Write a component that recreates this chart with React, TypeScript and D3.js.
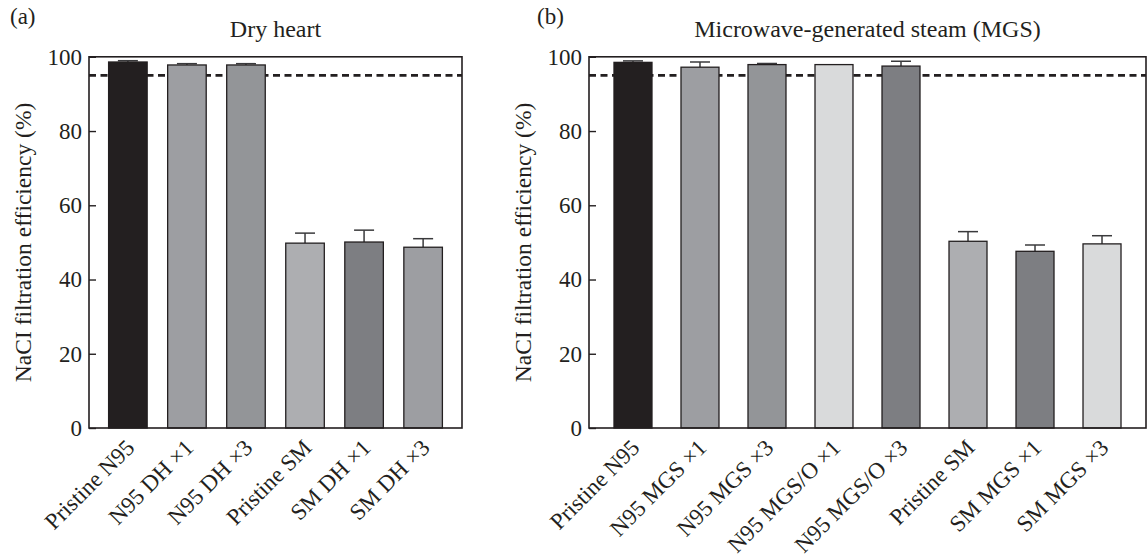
import React, { useEffect, useRef } from 'react';
import * as d3 from 'd3';

const W = 1148;
const H = 560;
const yTicks = [0, 20, 40, 60, 80, 100];
const threshold = 95;
const yLabel = 'NaCI filtration efficiency (%)';

const dhTitle = 'Dry heart';
const dhCategories = ['Pristine N95', 'N95 DH ×1', 'N95 DH ×3', 'Pristine SM', 'SM DH ×1', 'SM DH ×3'];
const dhValues = [98.6, 97.8, 97.8, 49.8, 50.1, 48.7];
const dhErrors = [0.35, 0.35, 0.35, 2.7, 3.2, 2.3];
const dhColors = ['#231f20', '#9d9ea2', '#939598', '#adaeb1', '#7d7e82', '#9d9ea2'];

const mgsTitle = 'Microwave-generated steam (MGS)';
const mgsCategories = ['Pristine N95', 'N95 MGS ×1', 'N95 MGS ×3', 'N95 MGS/O ×1', 'N95 MGS/O ×3', 'Pristine SM', 'SM MGS ×1', 'SM MGS ×3'];
const mgsValues = [98.5, 97.2, 97.9, 97.9, 97.5, 50.3, 47.6, 49.6];
const mgsErrors = [0.4, 1.4, 0.3, 0, 1.3, 2.6, 1.7, 2.2];
const mgsColors = ['#231f20', '#9d9ea2', '#939598', '#d9dadb', '#7d7e82', '#adaeb1', '#7d7e82', '#d9dadb'];

const FONT = "'Liberation Serif', 'Times New Roman', serif";
const INK = '#231f20';

type Panel = {
  tag: string; tagX: number; title: string; left: number; right: number;
  cats: string[]; vals: number[]; errs: number[]; colors: string[];
  pi: number; po: number;
};

const panels: Panel[] = [
  { tag: '(a)', tagX: 10, title: dhTitle, left: 89, right: 462, cats: dhCategories, vals: dhValues, errs: dhErrors, colors: dhColors, pi: 0.347, po: 0.332 },
  { tag: '(b)', tagX: 537, title: mgsTitle, left: 589, right: 1146, cats: mgsCategories, vals: mgsValues, errs: mgsErrors, colors: mgsColors, pi: 0.433, po: 0.373 },
];

export default function App() {
  const ref = useRef<SVGSVGElement>(null);
  useEffect(() => {
    document.body.style.margin = '0';
    const svg = d3.select(ref.current);
    svg.selectAll('*').remove();
    const top = 56.8, bottom = 428;
    const y = d3.scaleLinear().domain([0, 100]).range([bottom, top]);

    panels.forEach((p) => {
      const g = svg.append('g').attr('font-family', FONT).attr('fill', INK);
      const x = d3.scaleBand<string>().domain(p.cats).range([p.left, p.right]).paddingInner(p.pi).paddingOuter(p.po);

      // tag and title
      g.append('text').attr('x', p.tagX).attr('y', 24).attr('font-size', 23).attr('fill', INK).text(p.tag);
      g.append('text').attr('x', (p.left + p.right) / 2).attr('y', 37).attr('text-anchor', 'middle')
        .attr('font-size', 24).attr('fill', INK).text(p.title);

      // threshold dashed line
      g.append('line').attr('x1', p.left).attr('x2', p.right).attr('y1', y(threshold)).attr('y2', y(threshold))
        .attr('stroke', INK).attr('stroke-width', 2.6).attr('stroke-dasharray', '7,4.5');

      // error bars
      const eg = g.append('g');
      p.cats.forEach((c, i) => {
        if (p.errs[i] <= 0) return;
        const cx = (x(c) as number) + x.bandwidth() / 2;
        eg.append('line').attr('x1', cx).attr('x2', cx).attr('y1', y(p.vals[i])).attr('y2', y(p.vals[i] + p.errs[i]))
          .attr('stroke', '#3a3a3c').attr('stroke-width', 1.5);
        eg.append('line').attr('x1', cx - 10).attr('x2', cx + 10).attr('y1', y(p.vals[i] + p.errs[i])).attr('y2', y(p.vals[i] + p.errs[i]))
          .attr('stroke', '#3a3a3c').attr('stroke-width', 1.5);
      });

      // bars
      g.append('g').selectAll('rect').data(p.cats).join('rect')
        .attr('x', (c) => x(c) as number)
        .attr('width', x.bandwidth())
        .attr('y', (_c, i) => y(p.vals[i]))
        .attr('height', (_c, i) => bottom - y(p.vals[i]))
        .attr('fill', (_c, i) => p.colors[i])
        .attr('stroke', INK).attr('stroke-width', 1.3);

      // frame
      g.append('rect').attr('x', p.left).attr('y', top).attr('width', p.right - p.left).attr('height', bottom - top)
        .attr('fill', 'none').attr('stroke', INK).attr('stroke-width', 1.6);

      // y axis (inward ticks)
      const ax = g.append('g').attr('transform', `translate(${p.left},0)`)
        .call(d3.axisLeft(y).tickValues(yTicks).tickSizeInner(-7).tickSizeOuter(0).tickPadding(7).tickFormat(d3.format('d')));
      ax.select('.domain').remove();
      ax.selectAll('line').attr('stroke', INK).attr('stroke-width', 1.4);
      ax.selectAll('text').attr('font-size', 23).attr('font-family', FONT).attr('fill', INK);

      // y label
      g.append('text').attr('transform', `translate(${p.left - 66},${(top + bottom) / 2}) rotate(-90)`)
        .attr('text-anchor', 'middle').attr('dominant-baseline', 'central')
        .attr('font-size', 23.5).attr('fill', INK).text(yLabel);

      // x labels
      g.append('g').selectAll('text').data(p.cats).join('text')
        .attr('transform', (c) => `translate(${(x(c) as number) + x.bandwidth() / 2 + 8},${bottom + 21}) rotate(-45)`)
        .attr('text-anchor', 'end').attr('font-size', 23).attr('fill', INK)
        .text((c) => c);
    });
  }, []);
  return <svg ref={ref} width={W} height={H} style={{ display: 'block', background: '#fff' }} />;
}
